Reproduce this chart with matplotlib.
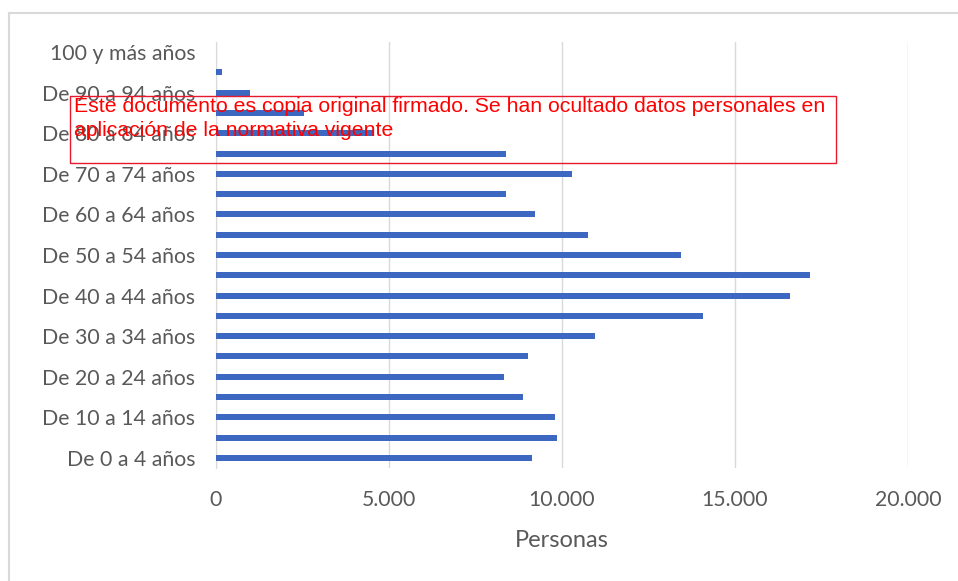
import matplotlib
matplotlib.use("Agg")
import matplotlib.pyplot as plt
from matplotlib.ticker import FuncFormatter
from matplotlib.patches import Rectangle
from matplotlib.lines import Line2D

categories = ["De 0 a 4 años", "De 5 a 9 años", "De 10 a 14 años", "De 15 a 19 años",
              "De 20 a 24 años", "De 25 a 29 años", "De 30 a 34 años", "De 35 a 39 años",
              "De 40 a 44 años", "De 45 a 49 años", "De 50 a 54 años", "De 55 a 59 años",
              "De 60 a 64 años", "De 65 a 69 años", "De 70 a 74 años", "De 75 a 79 años",
              "De 80 a 84 años", "De 85 a 89 años", "De 90 a 94 años", "De 95 a 99 años",
              "100 y más años"]
values = [9130, 9860, 9800, 8870, 8320, 9020, 10950, 14070, 16590, 17170,
          13440, 10750, 9220, 8380, 10290, 8380, 4540, 2540, 980, 180, 0]
xticks = [0, 5000, 10000, 15000, 20000]
xlabel = "Personas"
watermark = "Este documento es copia original firmado. Se han ocultado datos personales en\naplicación de la normativa vigente"

W, H = 958, 581
fig = plt.figure(figsize=(W / 100, H / 100), dpi=100)
fig.patch.set_facecolor("white")

left, right, bottom, top = 216, 908, 468, 42
ax = fig.add_axes([left / W, 1 - bottom / H, (right - left) / W, (bottom - top) / H])

ypos = list(range(len(categories)))
ax.barh(ypos, values, height=0.3, color="#3D68C2", zorder=3)
ax.set_ylim(-0.5, len(categories) - 0.5)
ax.set_xlim(0, 20000)
ax.set_xticks(xticks)
ax.xaxis.set_major_formatter(FuncFormatter(lambda v, p: f"{int(v):,}".replace(",", ".")))
ax.set_yticks(ypos[::2])
ax.set_yticklabels(categories[::2])
ax.grid(axis="x", color="#d9d9d9", linewidth=1, zorder=0)
for s in ["top", "right", "bottom"]:
    ax.spines[s].set_visible(False)
ax.spines["left"].set_color("#d9d9d9")
ax.tick_params(axis="both", length=0, colors="#595959", labelsize=15.3)
ax.tick_params(axis="y", pad=15)
ax.tick_params(axis="x", pad=16)
for lab in ax.get_xticklabels() + ax.get_yticklabels():
    lab.set_fontfamily("Lato")
ax.set_xlabel(xlabel, fontsize=17, color="#595959", family="Lato", labelpad=14)

# outer frame (left and top edges only)
fig.add_artist(Line2D([9 / W, 9 / W], [0, 1 - 13 / H], transform=fig.transFigure,
                      color="#d9d9d9", linewidth=1.5))
fig.add_artist(Line2D([9 / W, 1], [1 - 13 / H, 1 - 13 / H], transform=fig.transFigure,
                      color="#d9d9d9", linewidth=1.5))

# watermark box
bx0, by0, bx1, by1 = 70, 96, 836, 163
fig.add_artist(Rectangle((bx0 / W, 1 - by1 / H), (bx1 - bx0) / W, (by1 - by0) / H,
                         transform=fig.transFigure, fill=False, edgecolor="#e8192c", linewidth=1, zorder=10))
fig.text(74 / W, 1 - 97 / H, watermark, color="#ff0000", fontsize=15.3, family="Liberation Sans",
         va="top", ha="left", linespacing=1.35, zorder=11)

fig.savefig("out.png", dpi=100, facecolor="white")
